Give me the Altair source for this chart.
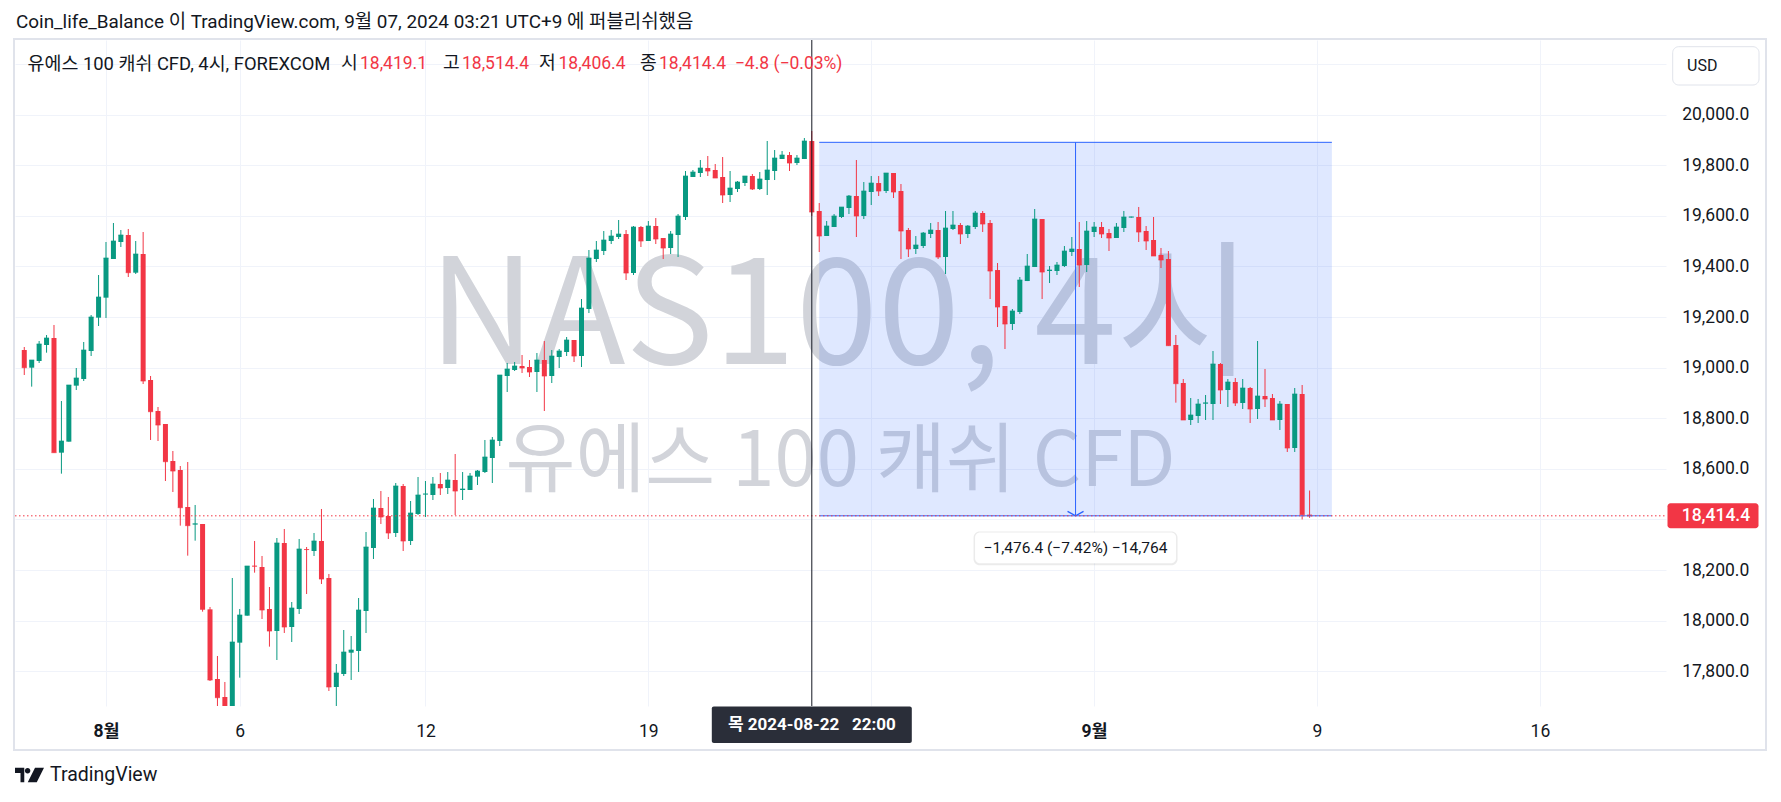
import altair as alt
import pandas as pd

# ---------------- data (4h candles) ----------------
opens = [19069.8, 19000.0, 19026.4, 19089.6, 19117.3, 18664.0, 18707.5, 18928.9, 18955.2, 19065.9,
         19197.7, 19276.7, 19429.6, 19496.8, 19524.4, 19375.5, 19449.3, 18951.2, 18828.7, 18777.3,
         18631.0, 18595.5, 18449.3, 18380.0, 18382.1, 18044.7, 17769.3, 17698.2, 17635.0, 17913.0,
         18019.7, 18217.0, 18212.1, 18046.1, 17959.1, 18307.0, 17974.9, 18046.1, 18283.2, 18275.3,
         18314.9, 18168.6, 17737.7, 17789.1, 17873.4, 17880.0, 18038.1, 18287.2, 18445.3, 18413.7,
         18346.5, 18532.3, 18314.9, 18421.6, 18499.0, 18496.7, 18540.2, 18524.4, 18555.9, 18516.4,
         18516.4, 18569.1, 18587.5, 18642.9, 18710.1, 18967.1, 18990.8, 19006.6, 19002.6, 18982.9,
         19030.3, 18967.1, 19042.2, 19061.9, 19109.4, 19046.1, 19231.9, 19429.5, 19461.1, 19500.7,
         19516.5, 19528.3, 19374.2, 19556.0, 19500.7, 19560.0, 19512.5, 19473.0, 19524.4, 19595.5,
         19753.7, 19769.5, 19789.3, 19781.4, 19753.7, 19682.5, 19706.2, 19729.9, 19757.6, 19706.2,
         19741.8, 19777.4, 19824.8, 19840.6, 19809.0, 19824.8, 19896.0, 19619.3, 19520.4, 19556.0,
         19595.5, 19631.1, 19678.6, 19599.5, 19694.4, 19729.9, 19698.3, 19769.5, 19698.3, 19544.2,
         19469.1, 19480.9, 19528.3, 19544.2, 19437.4, 19548.1, 19563.9, 19528.3, 19556.0, 19611.4,
         19571.8, 19386.0, 19243.7, 19172.6, 19220.0, 19342.5, 19397.9, 19587.6, 19382.1, 19382.1,
         19401.8, 19457.2, 19469.1, 19405.8, 19536.3, 19556.1, 19532.4, 19512.6, 19552.2, 19594.0,
         19595.6, 19540.3, 19504.7, 19445.4, 19429.6, 19089.6, 18939.4, 18793.2, 18809.0, 18858.0,
         18856.4, 19014.5, 18911.7, 18943.3, 18860.3, 18919.6, 18836.6, 18888.0, 18880.1, 18793.2,
         18856.4, 18682.5, 18895.9, 18419.1]
highs = [19081.7, 19030.3, 19105.4, 19129.1, 19168.7, 18868.2, 18931.5, 18998.7, 19101.5, 19208.2,
         19366.3, 19496.8, 19571.9, 19544.2, 19548.2, 19500.7, 19536.3, 18967.1, 18844.5, 18777.3,
         18670.6, 18611.3, 18627.1, 18457.2, 18382.1, 18054.0, 17860.3, 17757.5, 18168.6, 18046.1,
         18216.0, 18314.9, 18255.6, 18133.0, 18326.7, 18362.3, 18073.7, 18322.8, 18291.1, 18346.5,
         18441.4, 18184.4, 17828.6, 17963.0, 17939.3, 18089.5, 18350.4, 18480.9, 18512.5, 18488.8,
         18544.1, 18540.2, 18473.0, 18567.8, 18552.0, 18567.8, 18583.6, 18587.5, 18658.7, 18587.5,
         18583.6, 18595.5, 18714.1, 18725.9, 18971.0, 19018.5, 19022.4, 19050.1, 19030.3, 19058.0,
         19105.4, 19069.8, 19073.8, 19121.2, 19109.4, 19271.4, 19465.1, 19500.7, 19540.2, 19544.2,
         19583.7, 19544.2, 19560.0, 19560.0, 19579.7, 19591.6, 19512.5, 19540.2, 19607.4, 19777.4,
         19781.4, 19820.9, 19836.7, 19805.1, 19832.7, 19777.4, 19737.9, 19757.6, 19765.5, 19773.4,
         19896.0, 19860.4, 19856.5, 19852.5, 19840.6, 19907.8, 19935.5, 19650.9, 19579.7, 19607.4,
         19635.0, 19682.5, 19820.9, 19733.9, 19757.6, 19757.6, 19769.5, 19769.5, 19726.0, 19552.1,
         19520.4, 19536.3, 19571.8, 19575.8, 19619.3, 19619.3, 19571.8, 19563.9, 19619.3, 19619.3,
         19583.7, 19413.7, 19243.7, 19231.9, 19358.4, 19449.3, 19627.2, 19587.6, 19401.8, 19417.7,
         19480.9, 19516.5, 19575.8, 19579.7, 19575.8, 19575.9, 19548.2, 19571.9, 19619.4, 19597.0,
         19635.2, 19560.0, 19595.6, 19473.1, 19461.2, 19129.2, 18955.2, 18880.1, 18876.2, 18892.0,
         19065.9, 19018.5, 18955.2, 18959.2, 18955.2, 18923.6, 19105.4, 18994.8, 18895.9, 18868.2,
         18856.4, 18919.6, 18931.5, 18514.4]
lows = [18971.0, 18925.0, 19018.5, 19059.3, 18664.0, 18581.0, 18707.5, 18911.7, 18947.3, 19046.1,
        19164.7, 19196.4, 19429.6, 19477.0, 19358.4, 19370.3, 18935.4, 18714.1, 18710.1, 18552.0,
        18508.5, 18375.5, 18256.9, 18316.2, 18035.5, 17761.4, 17640.0, 17600.0, 17610.0, 17774.6,
        18019.7, 18189.7, 18006.5, 17897.2, 17844.4, 17951.2, 17915.6, 18026.3, 18105.3, 18255.6,
        18144.9, 17721.9, 17640.0, 17781.2, 17765.4, 17797.0, 17951.2, 18243.7, 18382.1, 18322.8,
        18330.7, 18275.3, 18299.0, 18417.6, 18409.7, 18476.9, 18496.7, 18500.6, 18417.6, 18476.9,
        18516.4, 18536.2, 18583.6, 18544.1, 18690.3, 18903.8, 18986.8, 18978.9, 18963.1, 18903.8,
        18828.7, 18939.4, 18998.7, 19046.1, 19022.4, 19002.6, 19216.0, 19417.7, 19445.3, 19488.8,
        19508.6, 19346.5, 19366.3, 19477.0, 19500.7, 19488.8, 19429.5, 19449.3, 19437.4, 19583.7,
        19753.7, 19753.7, 19757.6, 19749.7, 19650.9, 19654.8, 19694.4, 19718.1, 19702.3, 19702.3,
        19682.5, 19741.8, 19824.8, 19777.4, 19801.1, 19824.8, 19600.0, 19457.2, 19520.4, 19556.0,
        19591.6, 19607.4, 19516.5, 19587.6, 19643.0, 19678.6, 19690.4, 19670.7, 19429.5, 19437.4,
        19449.3, 19473.0, 19512.5, 19429.5, 19370.2, 19544.2, 19488.8, 19512.5, 19548.1, 19536.3,
        19271.4, 19160.7, 19073.8, 19148.9, 19212.1, 19342.5, 19397.9, 19271.4, 19334.6, 19366.3,
        19397.9, 19441.4, 19318.8, 19378.1, 19516.5, 19512.6, 19461.2, 19512.6, 19536.3, 19593.0,
        19496.8, 19465.2, 19441.5, 19394.0, 19087.0, 18861.7, 18793.2, 18773.4, 18781.3, 18793.2,
        18793.2, 18856.4, 18844.5, 18848.5, 18836.6, 18781.3, 18797.1, 18844.5, 18793.2, 18753.6,
        18666.7, 18666.7, 18400.0, 18406.4]
closes = [19000.0, 19030.3, 19093.6, 19117.3, 18664.0, 18710.1, 18931.5, 18959.2, 19069.8, 19200.3,
          19279.3, 19433.5, 19500.7, 19524.4, 19375.5, 19449.3, 18947.3, 18826.0, 18773.3, 18628.4,
          18591.5, 18446.6, 18375.5, 18383.0, 18044.7, 17765.4, 17695.5, 17630.0, 17915.6, 18022.3,
          18216.0, 18215.0, 18042.1, 17959.1, 18307.0, 17974.9, 18050.0, 18283.2, 18281.0, 18314.9,
          18164.6, 17737.7, 17793.1, 17876.0, 17883.9, 18042.1, 18291.1, 18445.3, 18409.7, 18346.5,
          18532.3, 18314.9, 18425.5, 18496.7, 18501.0, 18540.2, 18524.4, 18555.9, 18512.4, 18520.4,
          18571.8, 18591.5, 18646.9, 18714.1, 18971.0, 18994.7, 19006.6, 18998.7, 18982.9, 19030.3,
          18967.1, 19046.1, 19065.9, 19109.4, 19046.1, 19235.9, 19433.5, 19465.1, 19504.6, 19520.4,
          19528.3, 19374.2, 19556.0, 19500.7, 19560.0, 19508.6, 19473.0, 19528.3, 19599.5, 19757.6,
          19773.4, 19789.3, 19777.4, 19749.7, 19682.5, 19710.2, 19733.9, 19757.6, 19706.2, 19745.8,
          19781.4, 19828.8, 19840.6, 19809.0, 19828.8, 19896.0, 19615.3, 19520.4, 19560.0, 19599.5,
          19635.0, 19678.6, 19599.5, 19698.3, 19729.9, 19698.3, 19769.5, 19694.4, 19540.2, 19469.1,
          19484.9, 19532.3, 19544.2, 19437.4, 19552.1, 19563.9, 19528.3, 19560.0, 19611.4, 19567.9,
          19382.1, 19239.8, 19172.6, 19224.0, 19346.5, 19401.8, 19587.6, 19378.1, 19386.0, 19405.8,
          19461.1, 19469.1, 19405.8, 19540.2, 19556.0, 19528.4, 19512.6, 19556.1, 19595.6, 19596.0,
          19536.3, 19500.8, 19441.5, 19425.7, 19087.0, 18936.8, 18793.2, 18812.9, 18856.4, 18861.0,
          19014.5, 18911.7, 18943.3, 18860.3, 18919.6, 18836.6, 18888.0, 18876.2, 18793.2, 18856.4,
          18682.5, 18895.9, 18419.1, 18414.4]

# x ticks: the label under the crosshair tag (index 114) is hidden by the tag in the reference
x_tick_idx = [11, 29, 54, 84, 114, 144, 174, 204]
x_tick_text = ["8월", "6", "12", "19", "", "9월", "9", "16"]
month_idx = [11, 144]
y_ticks = [17800, 18000, 18200, 18400, 18600, 18800, 19000, 19200, 19400, 19600, 19800, 20000, 20200]
y_hidden = [18400, 20200]   # covered by the price tag / the USD button

last_price = 18414.4
crosshair_idx = 106
crosshair_text = "목 2024-08-22\u00a0\u00a0\u00a022:00"
ruler_start, ruler_end = 107, 176
ruler_top, ruler_bottom = 19890.8, 18414.4
ruler_text = "−1,476.4 (−7.42%) −14,764"

header_text = "Coin_life_Balance 이 TradingView.com, 9월 07, 2024 03:21 UTC+9 에 퍼블리쉬했음"
legend_name = "유에스 100 캐쉬 CFD, 4시, FOREXCOM"
ohlc_keys = ["시", "고", "저", "종"]
ohlc_vals = ["18,419.1", "18,514.4", "18,406.4", "18,414.4"]
change_text = "−4.8 (−0.03%)"
wm_line1 = "NAS100, 4시"
wm_line2 = "유에스 100 캐쉬 CFD"

# ---------------- styling ----------------
UP, DOWN = "#089981", "#f23645"
TXT = "#131722"
GRID = "#f0f3fa"
BLUE = "#2962ff"
FONT = "Roboto, 'Noto Sans CJK KR', sans-serif"
W, H = 1651, 666
XDOM = [-0.575, 220.3]
YDOM = [17662.6, 20295.3]

df = pd.DataFrame({"i": list(range(len(opens))), "o": opens, "h": highs, "l": lows, "c": closes})
df["dir"] = ["up" if c >= o else "down" for o, c in zip(opens, closes)]

xs = alt.Scale(domain=XDOM, nice=False, zero=False)
ys = alt.Scale(domain=YDOM, nice=False, zero=False)
col = alt.Color("dir:N", scale=alt.Scale(domain=["up", "down"], range=[UP, DOWN]), legend=None)

label_expr = " : ".join(f"datum.value == {v} ? '{t}'" for v, t in zip(x_tick_idx, x_tick_text)) + " : ''"
bold_test = " || ".join(f"datum.value == {m}" for m in month_idx)
hide_test = " || ".join(f"datum.value == {v}" for v in y_hidden)

x_axis = alt.Axis(values=x_tick_idx, labelExpr=label_expr, ticks=False, tickSize=0, domain=False,
                  labelPadding=25, labelBaseline="middle", labelFontSize=17.5, labelColor=TXT, labelFont=FONT,
                  labelFontWeight={"condition": {"test": bold_test, "value": "bold"}, "value": "normal"},
                  labelFlush=False, labelOverlap=False, gridColor=GRID, gridWidth=1, title=None)
y_axis = alt.Axis(orient="right", values=y_ticks,
                  labelExpr=f"({hide_test}) ? '' : format(datum.value, ',.1f')",
                  ticks=False, tickSize=0, domain=False, labelPadding=15.7, labelAlign="left",
                  labelBaseline="middle", labelFontSize=17.5, labelColor=TXT, labelFont=FONT,
                  labelFlush=False, labelOverlap=False, gridColor=GRID, gridWidth=1, title=None)

X = lambda f: alt.X(f, scale=xs, axis=x_axis)
Y = lambda f: alt.Y(f, scale=ys, axis=y_axis)

def txt(text, x, y, size, color=TXT, weight="normal", align="left", font=FONT, baseline="middle"):
    return alt.Chart(pd.DataFrame({"t": [text]})).mark_text(
        align=align, baseline=baseline, fontSize=size, font=font, color=color, fontWeight=weight
    ).encode(text="t:N", x=alt.value(x), y=alt.value(y))

one = pd.DataFrame({"a": [0]})

# frame around the whole pane
frame = alt.Chart(one).mark_rect(filled=False, stroke="#e0e3eb", strokeWidth=2).encode(
    x=alt.value(-1), x2=alt.value(1751), y=alt.value(-1), y2=alt.value(710))

# axes + grid carrier (invisible)
base = alt.Chart(df).mark_point(opacity=0).encode(x=X("i:Q"), y=Y("c:Q"))

# watermark
WMC = "#d2d4da"
wm1 = txt(wm_line1, 825.5, 324, 148, color=WMC, align="center", font="'Noto Sans CJK KR'", baseline="alphabetic")
wm2 = txt(wm_line2, 825.5, 446, 76, color=WMC, align="center", font="'Noto Sans CJK KR'", baseline="alphabetic")

ruler_df = pd.DataFrame({"x0": [ruler_start], "x1": [ruler_end], "p0": [ruler_bottom], "p1": [ruler_top],
                         "xm": [(ruler_start + ruler_end) / 2]})
ruler_fill = alt.Chart(ruler_df).mark_rect(color=BLUE, opacity=0.15).encode(
    x=X("x0:Q"), x2="x1:Q", y=Y("p0:Q"), y2="p1:Q")

wicks = alt.Chart(df).mark_rule(strokeWidth=1, clip=True).encode(x=X("i:Q"), y=Y("l:Q"), y2="h:Q", color=col)
bodies = alt.Chart(df).mark_bar(size=5, clip=True).encode(x=X("i:Q"), y=Y("o:Q"), y2="c:Q", color=col)
dojis = alt.Chart(df).mark_tick(orient="horizontal", size=5, thickness=1, clip=True).encode(
    x=X("i:Q"), y=Y("c:Q"), color=col)

edges_df = pd.DataFrame({"x0": [ruler_start] * 2, "x1": [ruler_end] * 2, "p": [ruler_top, ruler_bottom]})
ruler_edges = alt.Chart(edges_df).mark_rule(color=BLUE, strokeWidth=1).encode(x=X("x0:Q"), x2="x1:Q", y=Y("p:Q"))
ruler_mid = alt.Chart(ruler_df).mark_rule(color=BLUE, strokeWidth=1).encode(x=X("xm:Q"), y=Y("p1:Q"), y2="p0:Q")
ruler_head = alt.Chart(ruler_df).mark_point(shape="M-1,-0.55L0,0L1,-0.55", filled=False, stroke=BLUE,
                                             strokeWidth=1.4, size=256, opacity=1).encode(x=X("xm:Q"), y=Y("p0:Q"))

price_df = pd.DataFrame({"p": [last_price], "t": [f"{last_price:,.1f}"]})
price_line = alt.Chart(price_df).mark_rule(color=DOWN, strokeWidth=1, strokeDash=[1.5, 2.5]).encode(
    y=Y("p:Q"), x=alt.value(0), x2=alt.value(W))
price_box = alt.Chart(price_df).mark_rect(color=DOWN, cornerRadius=3, yOffset=-12.5, y2Offset=12.5).encode(
    y=Y("p:Q"), y2="p:Q", x=alt.value(W + 1.5), x2=alt.value(W + 92.5))
price_txt = alt.Chart(price_df).mark_text(align="left", baseline="middle", fontSize=17.5, font=FONT,
                                          color="white", fontWeight=500).encode(
    y=Y("p:Q"), x=alt.value(W + 15.7), text="t:N")

cross_df = pd.DataFrame({"i": [crosshair_idx], "t": [crosshair_text]})
cross_line = alt.Chart(cross_df).mark_rule(color="#131722", strokeWidth=1).encode(
    x=X("i:Q"), y=alt.value(0), y2=alt.value(H))
cross_box = alt.Chart(cross_df).mark_rect(color="#2a2e39", cornerRadius=2, xOffset=-100, x2Offset=100).encode(
    x=X("i:Q"), x2="i:Q", y=alt.value(H + 0.5), y2=alt.value(H + 37))
cross_txt = alt.Chart(cross_df).mark_text(align="center", baseline="middle", fontSize=17, font=FONT,
                                          color="white", fontWeight="bold").encode(
    x=X("i:Q"), y=alt.value(H + 19), text="t:N")

rl_df = pd.DataFrame({"xm": [(ruler_start + ruler_end) / 2], "p": [ruler_bottom], "t": [ruler_text]})
rl_shadow = alt.Chart(rl_df).mark_rect(color="#000000", opacity=0.08, cornerRadius=6,
                                       xOffset=-102, x2Offset=102, yOffset=15.8, y2Offset=49.4).encode(
    x=X("xm:Q"), x2="xm:Q", y=Y("p:Q"), y2="p:Q")
rl_box = alt.Chart(rl_df).mark_rect(color="white", cornerRadius=5,
                                    xOffset=-100.5, x2Offset=100.5, yOffset=16.8, y2Offset=47.4).encode(
    x=X("xm:Q"), x2="xm:Q", y=Y("p:Q"), y2="p:Q")
rl_txt = alt.Chart(rl_df).mark_text(align="center", baseline="middle", fontSize=15.5, font=FONT,
                                    color=TXT, dy=32).encode(x=X("xm:Q"), y=Y("p:Q"), text="t:N")

usd_box = alt.Chart(one).mark_rect(fill="white", stroke="#e0e3eb", strokeWidth=1, cornerRadius=6).encode(
    x=alt.value(W + 6.7), x2=alt.value(W + 93), y=alt.value(6.7), y2=alt.value(45))
usd_txt = txt("USD", W + 21, 26, 16)

header = txt(header_text, 1, -18, 18.9)
legend_layers = [txt(legend_name, 12.6, 24, 18.4)]
key_x = [326.0, 428.0, 524.0, 625.0]
val_x = [345.0, 447.0, 543.5, 644.0]
for k, v, kx, vx in zip(ohlc_keys, ohlc_vals, key_x, val_x):
    legend_layers.append(txt(k, kx, 24, 18.2))
    legend_layers.append(txt(v, vx, 24, 17.5, color=DOWN))
legend_layers.append(txt(change_text, 719.8, 24, 17.5, color=DOWN))

logo = alt.Chart(one).mark_point(
    shape="M-1,-0.5L-0.36,-0.5L-0.36,0.5L-0.62,0.5L-0.62,-0.14L-1,-0.14Z "
          "M-0.32,-0.3A0.19,0.19 0 1,0 0.06,-0.3A0.19,0.19 0 1,0 -0.32,-0.3Z "
          "M0.38,-0.5L1,-0.5L0.5,0.5L-0.12,0.5Z",
    filled=True, color=TXT, size=841, opacity=1).encode(x=alt.value(14.5), y=alt.value(735))
logo_txt = txt("TradingView", 35, 735, 19.5)

layers = [frame, base, wm1, wm2, ruler_fill, wicks, bodies, dojis, ruler_edges, ruler_mid, ruler_head,
          price_line, cross_line, cross_box, cross_txt, price_box, price_txt, rl_shadow, rl_box, rl_txt,
          usd_box, usd_txt, header] + legend_layers + [logo, logo_txt]

chart = alt.layer(*layers).properties(
    width=W, height=H, background="white",
    padding={"left": 7, "top": 32, "right": 107, "bottom": 88},
    autosize=alt.AutoSizeParams(type="none"),
).configure_view(stroke=None)

chart.save("out.html", embed_options={"renderer": "svg", "actions": False})
